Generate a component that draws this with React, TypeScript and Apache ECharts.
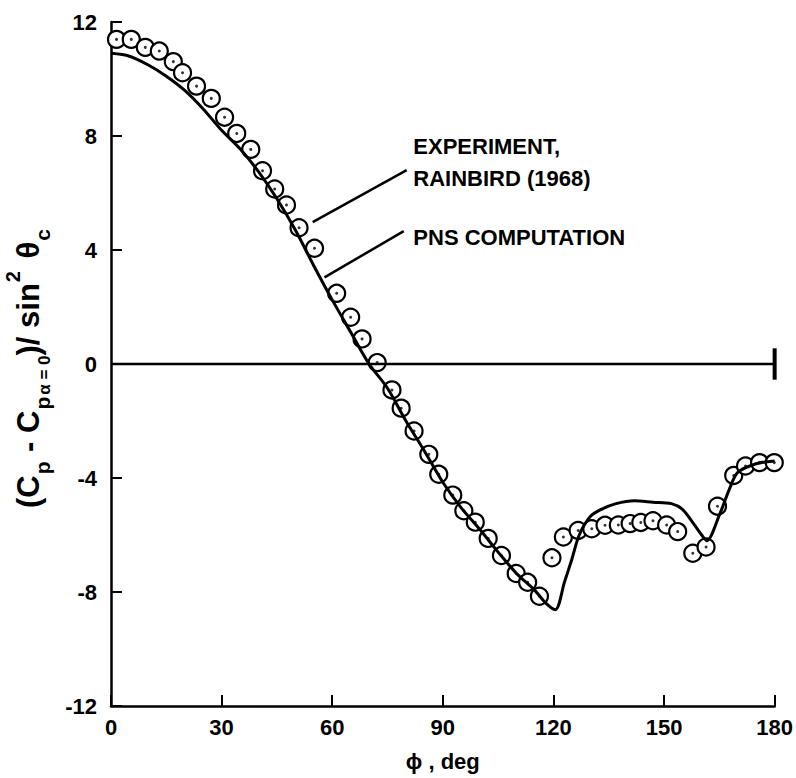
import React, { useEffect, useRef } from "react";
import * as echarts from "echarts";

// PNS computation (solid curve)
const curveX = [0, 5, 10, 15, 20, 25, 30, 35, 40, 45, 50, 55, 60, 65, 70, 75, 80, 85, 90, 95, 100, 105, 110, 115, 118, 120.5, 123, 125, 127, 130, 133, 137, 142, 147, 152, 155, 158, 160.5, 161.6, 165, 168, 170, 175, 180];
const curveY = [10.9, 10.8, 10.5, 10.1, 9.6, 8.95, 8.2, 7.55, 6.75, 5.8, 4.7, 3.45, 2.25, 1.12, 0.0, -0.85, -2.0, -3.05, -4.15, -5.05, -5.8, -6.6, -7.35, -7.95, -8.4, -8.62, -7.65, -6.85, -6.0, -5.35, -5.1, -4.9, -4.8, -4.85, -4.9, -5.1, -5.6, -6.05, -6.2, -5.3, -4.3, -3.8, -3.5, -3.4];

// Experiment, Rainbird (1968) (circles)
const expX = [1.5, 5.5, 9.3, 13.1, 16.9, 19.4, 23.2, 27.2, 30.8, 34.1, 37.9, 41.1, 44.4, 47.6, 51.0, 55.2, 61.2, 65.0, 68.1, 72.2, 76.2, 78.7, 82.2, 86.2, 88.9, 92.7, 95.7, 98.8, 102.3, 105.9, 109.9, 113.0, 116.2, 119.6, 122.7, 126.7, 130.4, 134.0, 137.6, 140.8, 143.7, 147.0, 150.7, 153.7, 157.8, 161.4, 164.5, 168.9, 172.1, 175.9, 179.9];
const expY = [11.39, 11.39, 11.11, 10.98, 10.61, 10.22, 9.75, 9.32, 8.66, 8.09, 7.53, 6.78, 6.14, 5.58, 4.78, 4.06, 2.48, 1.64, 0.88, 0.05, -0.91, -1.55, -2.35, -3.17, -3.87, -4.6, -5.15, -5.55, -6.12, -6.72, -7.35, -7.66, -8.15, -6.8, -6.07, -5.84, -5.78, -5.66, -5.65, -5.6, -5.56, -5.5, -5.65, -5.88, -6.64, -6.42, -4.99, -3.91, -3.58, -3.46, -3.46];

// reference line y = 0 with end bar at phi = 180
const zeroLineX = [0, 180];
const zeroLineY = [0, 0];
const endBarX = [180, 180];
const endBarY = [-0.55, 0.55];

const xTicks = { min: 0, max: 180, interval: 30 };
const yTicks = { min: -12, max: 12, interval: 4 };

// annotations (data units)
const annotationTexts = [
  { text: "EXPERIMENT,", at: [82, 7.62] },
  { text: "RAINBIRD (1968)", at: [82, 6.52] },
  { text: "PNS COMPUTATION", at: [82, 4.45] },
];
const leaderLines = [
  { from: [54.7, 4.98], to: [80.2, 6.8] },
  { from: [57.9, 3.04], to: [79.4, 4.66] },
];

const FONT = "'Liberation Sans', Arial, Helvetica, sans-serif";
const INK = "#000";

const zip = (xs: number[], ys: number[]) => xs.map((x, i) => [x, ys[i]]);

export default function App() {
  const ref = useRef<HTMLDivElement>(null);
  useEffect(() => {
    if (!ref.current) return;
    const chart = echarts.init(ref.current, null, { renderer: "svg" });
    const option: any = {
      animation: false,
      backgroundColor: "#fff",
      grid: { left: 111, top: 22, width: 671, height: 684 },
      xAxis: {
        type: "value",
        min: xTicks.min,
        max: xTicks.max,
        interval: xTicks.interval,
        axisLine: { show: true, onZero: false, lineStyle: { color: INK, width: 2.5 } },
        axisTick: { show: true, inside: true, length: 11, lineStyle: { color: INK, width: 2 } },
        axisLabel: { margin: 10, fontSize: 22, fontWeight: "bold", color: INK, fontFamily: FONT },
        splitLine: { show: false },
        name: "ϕ , deg",
        nameLocation: "middle",
        nameGap: 44,
        nameTextStyle: { fontSize: 22, fontWeight: "bold", color: INK, fontFamily: FONT },
      },
      yAxis: {
        type: "value",
        min: yTicks.min,
        max: yTicks.max,
        interval: yTicks.interval,
        axisLine: { show: true, onZero: false, lineStyle: { color: INK, width: 2.5 } },
        axisTick: { show: true, inside: true, length: 11, lineStyle: { color: INK, width: 2 } },
        axisLabel: { margin: 14, fontSize: 22, fontWeight: "bold", color: INK, fontFamily: FONT },
        splitLine: { show: false },
      },
      series: [
        {
          type: "line",
          data: zip(zeroLineX, zeroLineY),
          symbol: "none",
          lineStyle: { color: INK, width: 2.5 },
          silent: true,
        },
        {
          type: "line",
          data: zip(endBarX, endBarY),
          symbol: "none",
          lineStyle: { color: INK, width: 4 },
          silent: true,
        },
        {
          name: "PNS COMPUTATION",
          type: "line",
          data: zip(curveX, curveY),
          symbol: "none",
          smooth: 0.3,
          lineStyle: { color: INK, width: 3 },
        },
        {
          name: "EXPERIMENT, RAINBIRD (1968)",
          type: "scatter",
          data: zip(expX, expY),
          symbol: "circle",
          symbolSize: 17,
          itemStyle: { color: "#fff", borderColor: INK, borderWidth: 2.2, opacity: 1 },
        },
        {
          type: "scatter",
          data: zip(expX, expY),
          symbol: "circle",
          symbolSize: 3,
          itemStyle: { color: INK },
          silent: true,
        },
      ],
    };
    chart.setOption(option);

    const px = (p: number[]) => chart.convertToPixel({ gridIndex: 0 }, p) as number[];
    const graphics: any[] = [];
    leaderLines.forEach((l) => {
      const a = px(l.from);
      const b = px(l.to);
      graphics.push({
        type: "line",
        shape: { x1: a[0], y1: a[1], x2: b[0], y2: b[1] },
        style: { stroke: INK, lineWidth: 2.5 },
        z: 10,
      });
    });
    annotationTexts.forEach((t) => {
      const p = px(t.at);
      graphics.push({
        type: "text",
        x: p[0],
        y: p[1],
        style: {
          text: t.text,
          fill: INK,
          font: `bold 22px ${FONT}`,
          textAlign: "left",
          textVerticalAlign: "middle",
        },
        z: 10,
      });
    });
    // y-axis title with subscripts
    const tok = (size: number, lh: number, va?: string, pad?: number[]) => ({
      fontSize: size,
      fontWeight: "bold",
      fontFamily: FONT,
      lineHeight: lh,
      verticalAlign: va,
      padding: pad,
      fill: INK,
      color: INK,
    });
    graphics.push({
      type: "text",
      x: 28,
      y: 368,
      rotation: Math.PI / 2,
      style: {
        text: "{n|(C}{s|p}{n| - C}{s|p}{ss|α = 0}{n|)/ sin}{u|2}{n| θ}{s|c}",
        textAlign: "center",
        textVerticalAlign: "middle",
        fill: INK,
        rich: {
          n: tok(31, 50),
          s: tok(21, 32, "bottom", [0, 1, 0, 1]),
          ss: tok(17, 17, "bottom", [0, 0, 0, 1]),
          u: tok(20, 28, "top", [0, 4, 0, 1]),
        },
      },
      z: 10,
    });
    chart.setOption({ graphic: graphics });

    return () => chart.dispose();
  }, []);
  return (
    <div
      ref={ref}
      style={{ position: "fixed", left: 0, top: 0, width: 796, height: 778, background: "#fff" }}
    />
  );
}
